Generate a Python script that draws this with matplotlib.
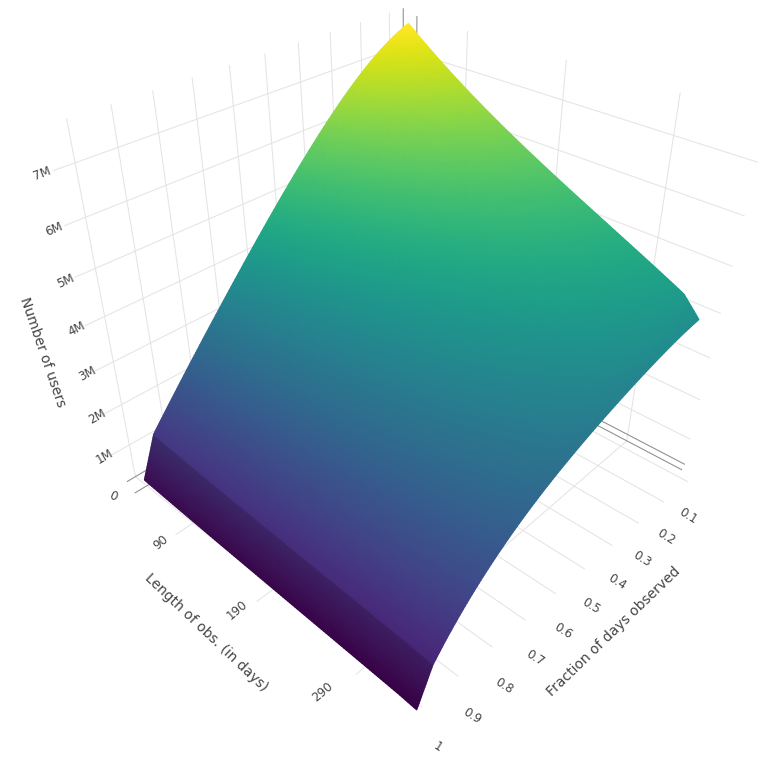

import numpy as np, matplotlib
matplotlib.use('Agg')
import matplotlib.pyplot as plt

# ---- values
lengths = [24, 60, 100, 150, 200, 250, 300, 320, 336]
fractions = [1.0, .955, .93, .88, .81, .74, .65, .57, .49, .37, .25, .13, .075]
users = [
 [.30, .26, .22, .17, .13, .09, .05, .03, 0],
 [1.17, 1.10, 1.04, .96, .90, .84, .78, .74, .70],
 [1.55, 1.48, 1.42, 1.33, 1.26, 1.20, 1.13, 1.10, 1.05],
 [1.94, 1.86, 1.79, 1.69, 1.62, 1.54, 1.47, 1.43, 1.38],
 [2.49, 2.39, 2.30, 2.18, 2.08, 1.99, 1.90, 1.85, 1.78],
 [3.17, 3.03, 2.90, 2.73, 2.60, 2.47, 2.34, 2.27, 2.18],
 [3.91, 3.72, 3.55, 3.32, 3.14, 2.97, 2.80, 2.71, 2.58],
 [4.60, 4.34, 4.12, 3.81, 3.56, 3.33, 3.09, 2.97, 2.80],
 [5.27, 4.95, 4.66, 4.28, 3.97, 3.68, 3.38, 3.23, 3.02],
 [6.05, 5.65, 5.31, 4.84, 4.46, 4.10, 3.75, 3.56, 3.30],
 [6.85, 6.37, 5.95, 5.38, 4.92, 4.49, 4.06, 3.83, 3.52],
 [7.45, 6.90, 6.43, 5.77, 5.25, 4.76, 4.27, 4.01, 3.65],
 [7.55, 7.00, 6.52, 5.86, 5.33, 4.84, 4.34, 4.08, 3.72],
]
length_ticks = [90, 190, 290]
fraction_ticks = [.1, .2, .3, .4, .5, .6, .7, .8, .9, 1]
fraction_labels = ['0.1', '0.2', '0.3', '0.4', '0.5', '0.6', '0.7', '0.8', '0.9', '1']
user_ticks = [1, 2, 3, 4, 5, 6, 7]
user_labels = ['1M', '2M', '3M', '4M', '5M', '6M', '7M']

# ---- camera / box
EL, AZ, FOC = 33.4562, -46.8756, 0.2704
L, T, W = 41.35, -32.98, 709.6
XMIN, XMAX = 9.47, 336.04
YMIN, YMAX = .0723, .9994
ZMIN, ZMAX = .1752, 7.7698
YEXT = YMAX + .05
S = 769.

fig = plt.figure(figsize=(7.69, 7.69), dpi=100)
ax = fig.add_axes([L/S, 1-(T+W)/S, W/S, W/S], projection='3d')
ax.set_axis_off()
ax.computed_zorder = False
ax.set_box_aspect((1, 1, 1))
ax.set_proj_type('persp', focal_length=FOC)
ax.view_init(EL, AZ)
ax.set_xlim(XMIN, XMAX); ax.set_ylim(YMAX, YMIN); ax.set_zlim(ZMIN, ZMAX)

GRID, DARK = '#e4e4e4', '#8c8c8c'
def line(xs, ys, zs, c=GRID):
    l, = ax.plot(xs, ys, zs, color=c, lw=0.75, zorder=1, solid_capstyle='butt')
    l.set_clip_on(False)

for v, e in zip(length_ticks, [.05, .05, .035]):
    line([v, v, v], [YMIN, YMIN, YMAX + e], [ZMAX, ZMIN, ZMIN])
for v in fraction_ticks:
    line([XMIN, XMIN, XMAX + 5 + (1 - v) * 18], [v, v, v], [ZMAX, ZMIN, ZMIN])
for v in user_ticks:
    line([XMIN, XMIN, XMAX + 10.5 + v * 1.5], [YEXT, YMIN, YMIN], [v, v, v])
line([XMIN, XMIN, XMAX + 10], [YMAX + .025, YMIN, YMIN], [ZMIN, ZMIN, ZMIN], DARK)
XD, XD_WALL, YD = 26, 33, .05
line([XD, XD], [YMAX + .035, YMIN], [ZMIN, ZMIN], DARK)
line([XD_WALL, XD_WALL], [YMIN, YMIN], [ZMIN, ZMAX], DARK)
line([XMAX + 8, XMIN, XMIN], [YD, YD, YD], [ZMIN, ZMIN, ZMAX], DARK)

# ---- surface: the table above, drawn on a finer mesh so that the outline runs smoothly
xa, ya, za = np.array(lengths, float), np.array(fractions, float), np.array(users, float)
xf = np.linspace(xa[0], xa[-1], 120)
yf = np.concatenate([np.linspace(ya[i], ya[i+1], 14, endpoint=False) for i in range(len(ya)-1)] + [ya[-1:]])

def along_x(row):
    fit = np.polyval(np.polyfit(xa[:8], row[:8], 3), xf)
    last = xf > xa[7]
    end = np.polyval(np.polyfit(xa[:8], row[:8], 3), xa[7])
    fit[last] = np.interp(xf[last], [xa[7], xa[8]], [end, row[8]])
    return fit

def along_y(col):
    out = np.empty_like(yf)
    upper = yf <= ya[1]
    out[upper] = np.polyval(np.polyfit(ya[1:], col[1:], 4), yf[upper])
    kink = np.polyval(np.polyfit(ya[1:], col[1:], 4), ya[1])
    out[~upper] = np.interp(-yf[~upper], [-ya[0], -ya[1]], [col[0], kink])
    return out

zc = np.array([along_x(row) for row in za])
zf = np.array([along_y(zc[:, j]) for j in range(len(xf))]).T
Xg, Yg = np.meshgrid(xf, yf)
norm = plt.Normalize(0, 7.55)
cols = plt.cm.viridis(norm(zf))
steep = Yg > ya[1]
cols[..., :3][steep] *= .82
surf = ax.plot_surface(Xg, Yg, zf, facecolors=cols, rstride=1, cstride=1, shade=False,
                       linewidth=1.0, antialiased=True, zorder=2)
surf.set_clip_on(False)

TXT = '#444444'
def lab(px, py, s, rot, size=8.6):
    fig.text(px/S, 1-py/S, s, rotation=rot, rotation_mode='anchor', ha='center', va='center',
             color=TXT, fontsize=size, family='DejaVu Sans')

upos = [(105, 457, 30), (97, 417, 29), (87, 374, 28), (77, 329, 27), (66, 281, 25), (54, 229, 23), (42, 174, 21)]
lab(113, 496, '0', -24)
for s, (a, b, r) in zip(user_labels, upos): lab(a, b, s, r)
for s, (a, b) in zip(length_ticks, [(161, 542), (237, 610), (323, 692)]): lab(a, b, str(s), 40)
fpos = [(688, 516), (666, 537), (642, 559), (617, 582), (591, 606), (563, 631), (535, 658), (504, 686), (472, 716), (438, 747)]
for s, (a, b) in zip(fraction_labels, fpos): lab(a, b, s, -32)
lab(43, 352, 'Number of users', -71, 10)
lab(206, 633, 'Length of obs. (in days)', -43.6, 10)
lab(614, 632, 'Fraction of days observed', 44, 10)
fig.savefig('out.png', dpi=100)
